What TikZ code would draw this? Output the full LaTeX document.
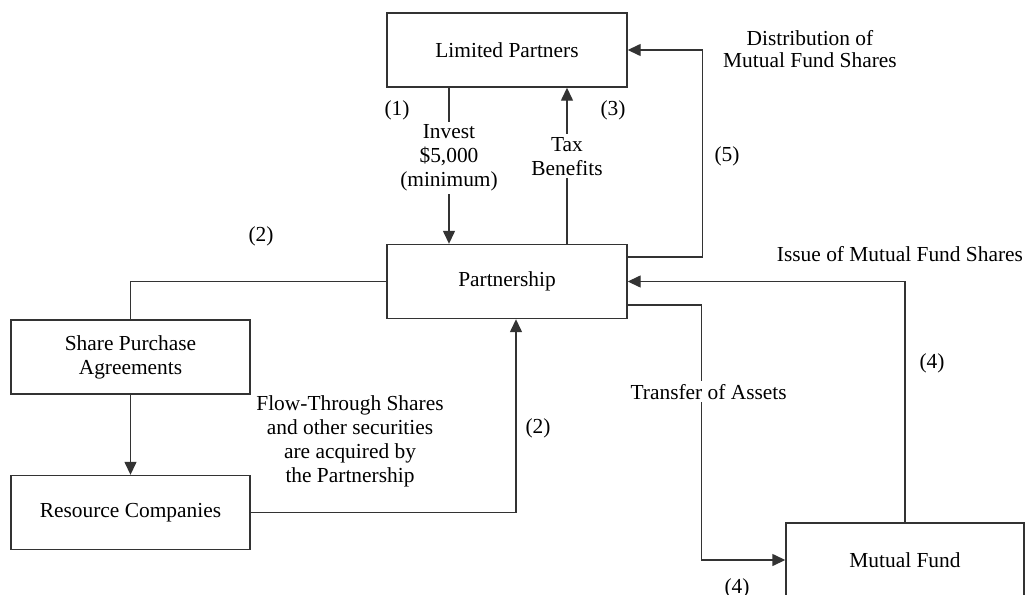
\documentclass[tikz,border=0pt]{standalone}
\usepackage{fontspec}
\setmainfont{Liberation Serif}
\usetikzlibrary{arrows.meta,positioning}

\begin{document}
\begin{tikzpicture}[x=0.5pt, y=-0.5pt, font=\fontsize{10.7}{12}\selectfont,
  box/.style={draw=black!80, line width=0.7pt, minimum width=120pt, minimum height=37pt, align=center, inner sep=0pt},
  lbl/.style={fill=white, align=center, inner sep=1.5pt},
  line/.style={draw=black!80, line width=0.7pt},
  >={Triangle[length=6.5pt,width=6pt]}]
\useasboundingbox (0,0) rectangle (1025,595);
\clip (0,0) rectangle (1025,595);

\node[box] (partners) at (507,50) {Limited Partners};
\node[box] (partnership) at (507,281.5) {Partnership};
\node[box, minimum width=119.5pt] (agreements) at (130.5,357) {Share Purchase\\Agreements};
\node[box, minimum width=119.5pt] (companies) at (130.5,512.5) {Resource Companies};
\node[box, minimum width=119pt] (fund) at (905,560) {Mutual Fund};

% flows between partners and partnership
\draw[line,->] ([xshift=-29pt]partners.south) -- node[lbl,pos=0.45] {Invest\\\$5,000\\(minimum)} ([xshift=-29pt]partnership.north);
\draw[line,->] ([xshift=30pt]partnership.north) -- node[lbl,pos=0.56] {Tax\\Benefits} ([xshift=30pt]partners.south);
\draw[line,->] ([yshift=12.25pt]partnership.east) -- ++(37.5pt,0) |- (partners.east);

% resource side
\draw[line] (partnership.west) -| (agreements.north);
\draw[line,->] (agreements) -- (companies);
\draw[line,->] (companies.east) -| ([xshift=4.5pt]partnership.south);

% mutual fund side
\draw[line,->] (fund.north) |- (partnership.east);
\draw[line,->] ([yshift=-11.75pt]partnership.east) -- ++(37pt,0) coordinate (bend)
  -- node[lbl,pos=0.34,xshift=3.5pt] {Transfer of Assets} (bend |- fund.west) -- (fund.west);

\node (n1) at (397,110) {(1)};
\node (n3) at (613,110) {(3)};
\node (n5) at (727,156) {(5)};
\node[align=center] (distrib) at (810,49) {Distribution of\\[-1pt]Mutual Fund Shares};
\node (n2a) at (261,236) {(2)};
\node (n2b) at (538,428) {(2)};
\node[align=center] (flow) at (350,441) {Flow-Through Shares\\and other securities\\are acquired by\\the Partnership};
\node (issue) at (900,254) {Issue of Mutual Fund Shares};
\node (n4a) at (932,363) {(4)};
\node (n4b) at (737,588) {(4)};
\end{tikzpicture}
\end{document}
